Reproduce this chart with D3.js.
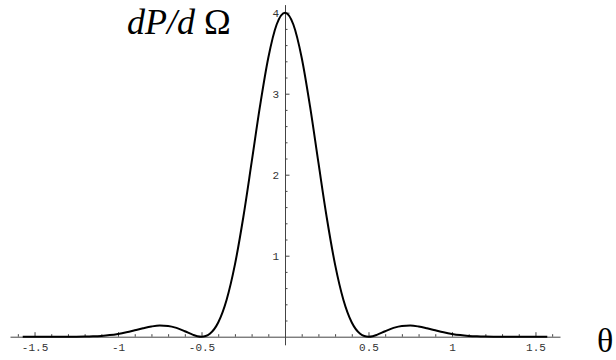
<!DOCTYPE html>
<html>
<head>
<meta charset="utf-8">
<script src="https://cdn.jsdelivr.net/npm/d3@7"></script>
<style>
  body { margin: 0; background: #fff; }
  .tick text { font-family: 'Liberation Mono', monospace; font-size: 11px; fill: #333; }
</style>
</head>
<body>
<div id="chart"></div>
<script>
// Angle theta (radians) and dP/dOmega
const thetaValues = [-1.5708, -1.5, -1.45, -1.4, -1.35, -1.3, -1.25, -1.2, -1.15, -1.1, -1.05, -1.0,
  -0.95, -0.9, -0.85, -0.8, -0.75, -0.7, -0.65, -0.6, -0.55, -0.525, -0.5, -0.475, -0.45, -0.4,
  -0.35, -0.3, -0.25, -0.2, -0.15, -0.1, -0.05, 0,
  0.05, 0.1, 0.15, 0.2, 0.25, 0.3, 0.35, 0.4, 0.45, 0.475, 0.5, 0.525, 0.55, 0.6, 0.65, 0.7,
  0.75, 0.8, 0.85, 0.9, 0.95, 1.0, 1.05, 1.1, 1.15, 1.2, 1.25, 1.3, 1.35, 1.4, 1.45, 1.5, 1.5708];
const powerValues = [0, 0.0004, 0.0005, 0.0005, 0.0003, 0, 0.0002, 0.0012, 0.0041, 0.0099, 0.0197, 0.0346,
  0.0546, 0.0789, 0.1043, 0.1262, 0.138, 0.1334, 0.1088, 0.0674, 0.0225, 0.0064, 0, 0.0084, 0.0369, 0.176,
  0.454, 0.89, 1.472, 2.151, 2.843, 3.444, 3.854, 4,
  3.854, 3.444, 2.843, 2.151, 1.472, 0.89, 0.454, 0.176, 0.0369, 0.0084, 0, 0.0064, 0.0225, 0.0674, 0.1088, 0.1334,
  0.138, 0.1262, 0.1043, 0.0789, 0.0546, 0.0346, 0.0197, 0.0099, 0.0041, 0.0012, 0.0002, 0, 0.0003, 0.0005, 0.0005, 0.0004, 0];

// Tick values
const xMajorTicks = [-1.5, -1, -0.5, 0.5, 1, 1.5];
const xMajorLabels = ['-1.5', '-1', '-0.5', '0.5', '1', '1.5'];
const xMinorTicks = [-1.6, -1.4, -1.3, -1.2, -1.1, -0.9, -0.8, -0.7, -0.6, -0.4, -0.3, -0.2, -0.1,
  0.1, 0.2, 0.3, 0.4, 0.6, 0.7, 0.8, 0.9, 1.1, 1.2, 1.3, 1.4, 1.6];
const yMajorTicks = [1, 2, 3, 4];
const yMinorTicks = [0.2, 0.4, 0.6, 0.8, 1.2, 1.4, 1.6, 1.8, 2.2, 2.4, 2.6, 2.8, 3.2, 3.4, 3.6, 3.8];

const width = 616;
const height = 360;
const axisColor = '#444';

const svg = d3.select('#chart')
  .append('svg')
  .attr('width', width)
  .attr('height', height);

// Scales (axes cross at the origin)
const x = d3.scaleLinear().domain([-1.647, 1.647]).range([10, 560]);
const y = d3.scaleLinear().domain([-0.1, 4.1]).range([344.8, 4.6]);

// X axis: minor ticks, then major ticks with labels
svg.append('g')
  .attr('transform', `translate(0,${y(0)})`)
  .call(d3.axisBottom(x).tickValues(xMinorTicks).tickSize(-2.5).tickSizeOuter(0).tickFormat(''))
  .call(g => g.selectAll('line, path').attr('stroke', axisColor));

svg.append('g')
  .attr('transform', `translate(0,${y(0)})`)
  .call(d3.axisBottom(x).tickValues(xMajorTicks).tickSize(-4.5).tickSizeOuter(0).tickPadding(7)
    .tickFormat((d, i) => xMajorLabels[i]))
  .call(g => g.select('.domain').remove())
  .call(g => g.selectAll('line').attr('stroke', axisColor))
  .call(g => g.selectAll('text').attr('font-family', null).attr('font-size', null));

// Y axis
svg.append('g')
  .attr('transform', `translate(${x(0)},0)`)
  .call(d3.axisLeft(y).tickValues(yMinorTicks).tickSize(-2.5).tickSizeOuter(0).tickFormat(''))
  .call(g => g.selectAll('line, path').attr('stroke', axisColor));

svg.append('g')
  .attr('transform', `translate(${x(0)},0)`)
  .call(d3.axisLeft(y).tickValues(yMajorTicks).tickSize(-4.5).tickSizeOuter(0).tickPadding(6)
    .tickFormat(d3.format('d')))
  .call(g => g.select('.domain').remove())
  .call(g => g.selectAll('line').attr('stroke', axisColor))
  .call(g => g.selectAll('text').attr('font-family', null).attr('font-size', null));

// Curve
const points = thetaValues.map((t, i) => [t, powerValues[i]]);
const line = d3.line()
  .x(d => x(d[0]))
  .y(d => y(d[1]))
  .curve(d3.curveMonotoneX);

svg.append('path')
  .datum(points)
  .attr('d', line)
  .attr('fill', 'none')
  .attr('stroke', '#000')
  .attr('stroke-width', 2);

// Axis titles
const title = svg.append('text')
  .attr('x', 127)
  .attr('y', 34)
  .style('font-family', "'Liberation Serif', 'Times New Roman', serif")
  .style('font-size', '36px')
  .style('fill', '#000');
title.append('tspan').style('font-style', 'italic').text('dP/d');
title.append('tspan').text(' Ω');

svg.append('text')
  .attr('x', 597)
  .attr('y', 352)
  .style('font-family', "'Liberation Serif', 'Times New Roman', serif")
  .style('font-size', '34px')
  .style('fill', '#000')
  .text('θ');
</script>
</body>
</html>
